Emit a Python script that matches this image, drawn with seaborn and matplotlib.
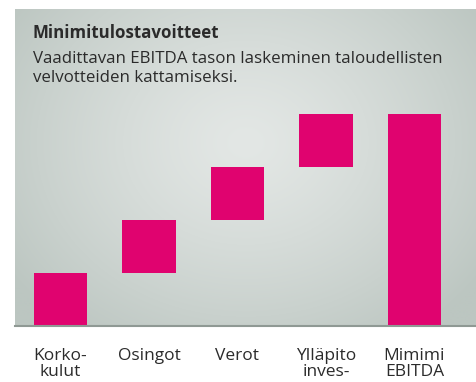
import numpy as np
import pandas as pd
import matplotlib
matplotlib.use("Agg")
import matplotlib.pyplot as plt
import seaborn as sns

# Waterfall components of the minimum EBITDA requirement
categories = ["Korko-\nkulut", "Osingot", "Verot", "Ylläpito\ninves-", "Mimimi\nEBITDA"]
steps = [1.0, 1.0, 1.0, 1.0]
title = "Minimitulostavoitteet"
subtitle_lines = ["Vaadittavan EBITDA tason laskeminen taloudellisten",
                  "velvotteiden kattamiseksi."]

sns.set_theme(style="white")
plt.rcParams["font.family"] = ["Open Sans", "DejaVu Sans"]

total = sum(steps)
tops = list(np.cumsum(steps)) + [total]
bottoms = [t - s for t, s in zip(tops[:-1], steps)] + [0.0]
df = pd.DataFrame({"cat": categories, "top": tops, "bottom": bottoms})

W, H = 476, 382
fig = plt.figure(figsize=(W / 100, H / 100), dpi=100)
fig.patch.set_facecolor("white")
ax = fig.add_axes([15 / W, (H - 326) / H, (W - 15) / W, 317 / H])

xlim = (-0.514, 4.695)
ylim = (0, 5.98)

# radial grey gradient panel
ny, nx = 300, 460
yy, xx = np.mgrid[0:ny, 0:nx]
cx, cy = 0.50 * nx, 0.42 * ny
r = np.sqrt(((xx - cx) / (0.62 * nx)) ** 2 + ((yy - cy) / (0.75 * ny)) ** 2)
r = np.clip(r, 0, 1)
c_in = np.array([0xE3, 0xE7, 0xE5]) / 255
c_out = np.array([0xBC, 0xC6, 0xC1]) / 255
img = c_in[None, None, :] + (c_out - c_in)[None, None, :] * (r[..., None] ** 1.3)
ax.imshow(img, extent=[xlim[0], xlim[1], ylim[0], ylim[1]], origin="upper",
          aspect="auto", zorder=0, interpolation="bilinear")

sns.barplot(data=df, x="cat", y="top", color="#e0036f", width=0.6,
            saturation=1, ax=ax, zorder=2)
# floating bars start at the running total of the previous steps
for patch, b in zip(ax.patches, df["bottom"]):
    patch.set_y(b)
    patch.set_height(patch.get_height() - b)
    patch.set_linewidth(0)

ax.set_xlim(*xlim)
ax.set_ylim(*ylim)
ax.set_xlabel("")
ax.set_ylabel("")
ax.set_yticks([])
ax.set_xticks(range(len(categories)))
ax.set_xticklabels(categories, fontsize=12.5, color="#2b2b2b", linespacing=1.0)
ax.tick_params(axis="x", length=0, pad=16)
for s in ["top", "right", "left"]:
    ax.spines[s].set_visible(False)
ax.spines["bottom"].set_color("#8f9994")
ax.spines["bottom"].set_linewidth(1.5)

fig.text(33 / W, 1 - 38 / H, title, fontsize=12.2, fontweight="bold",
         color="#2b2b2b", va="baseline", ha="left")
for i, line in enumerate(subtitle_lines):
    fig.text(33 / W, 1 - (63 + 19 * i) / H, line, fontsize=12.2, color="#2b2b2b",
             va="baseline", ha="left")

fig.savefig("out.png", dpi=100)
